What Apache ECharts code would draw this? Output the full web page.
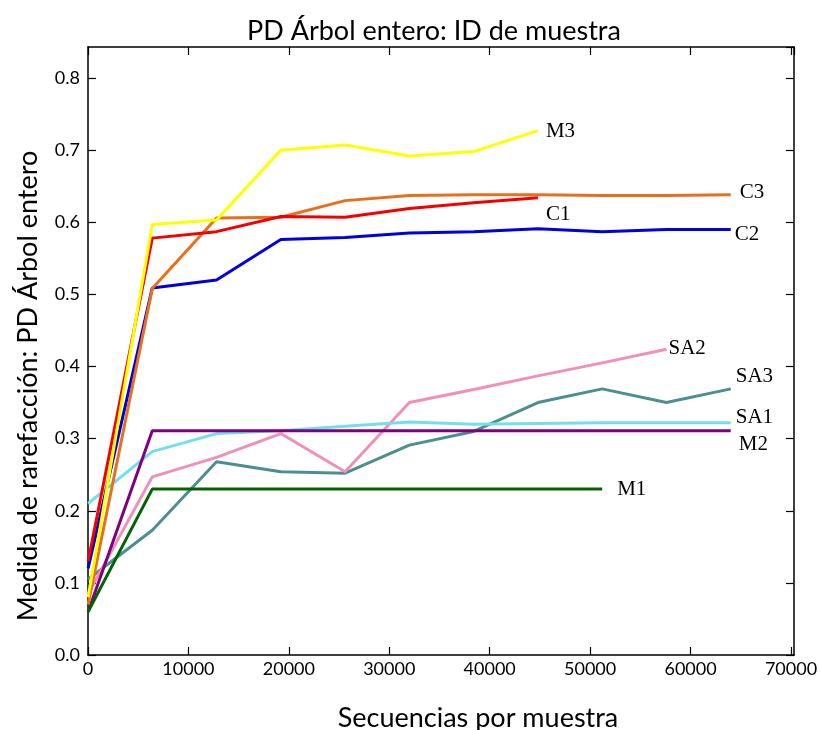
<!DOCTYPE html>
<html>
<head>
<meta charset="utf-8">
<script src="https://cdn.jsdelivr.net/npm/echarts@6/dist/echarts.min.js"></script>
<style>html,body{margin:0;padding:0;background:#fff}#c{width:820px;height:730px}</style>
</head>
<body>
<div id="c"></div>
<script>
var xs = [10, 6400, 12800, 19200, 25600, 32000, 38400, 44800, 51200, 57600, 64000];
var M3 = [0.080, 0.597, 0.603, 0.700, 0.707, 0.692, 0.698, 0.727];
var C3 = [0.070, 0.508, 0.606, 0.607, 0.630, 0.637, 0.638, 0.638, 0.637, 0.637, 0.638];
var C1 = [0.130, 0.578, 0.587, 0.608, 0.607, 0.619, 0.627, 0.634];
var C2 = [0.120, 0.509, 0.520, 0.576, 0.579, 0.585, 0.587, 0.591, 0.587, 0.590, 0.590];
var SA2 = [0.085, 0.247, 0.274, 0.307, 0.254, 0.350, 0.368, 0.387, 0.405, 0.424];
var SA3 = [0.105, 0.173, 0.268, 0.254, 0.252, 0.291, 0.310, 0.350, 0.369, 0.350, 0.369];
var SA1 = [0.210, 0.282, 0.307, 0.311, 0.317, 0.323, 0.320, 0.321, 0.322, 0.322, 0.322];
var M2 = [0.060, 0.311, 0.311, 0.311, 0.311, 0.311, 0.311, 0.311, 0.311, 0.311, 0.311];
var M1 = [0.060, 0.230, 0.230, 0.230, 0.230, 0.230, 0.230, 0.230, 0.230];
var xTicks = [0, 10000, 20000, 30000, 40000, 50000, 60000, 70000];
var yTicks = [0.0, 0.1, 0.2, 0.3, 0.4, 0.5, 0.6, 0.7, 0.8];

function pairs(vals) { return vals.map(function (v, i) { return [xs[i], v]; }); }

var defs = [
  { name: 'SA3', data: SA3, color: '#4b8f8f', offset: [-3, -12] },
  { name: 'SA2', data: SA2, color: '#f090b8', offset: [-6, -1] },
  { name: 'SA1', data: SA1, color: '#70e0f0', offset: [-3, -5] },
  { name: 'M2', data: M2, color: '#800080', offset: [0, 14] },
  { name: 'M1', data: M1, color: '#006400', offset: [7, 0] },
  { name: 'C2', data: C2, color: '#0000e0', offset: [-4, 5] },
  { name: 'C3', data: C3, color: '#e8701c', offset: [1, -2] },
  { name: 'C1', data: C1, color: '#f50000', offset: [0, 17] },
  { name: 'M3', data: M3, color: '#ffff00', offset: [0, 1] }
];

var series = defs.map(function (d) {
  return {
    name: d.name, type: 'line', data: pairs(d.data), symbol: 'none',
    lineStyle: { color: d.color, width: 3 }, itemStyle: { color: d.color },
    xAxisIndex: 0, yAxisIndex: 0,
    endLabel: { show: true, formatter: '{a}', color: '#000', fontFamily: 'Liberation Serif',
      fontSize: 21, distance: 8, offset: d.offset }
  };
});

function axisCommon() {
  return {
    axisLine: { show: true, onZero: false, lineStyle: { color: '#000', width: 1.5 } },
    axisTick: { show: true, inside: true, length: 8, lineStyle: { color: '#000', width: 1.2 } },
    splitLine: { show: false }
  };
}

var chart = echarts.init(document.getElementById('c'));
chart.setOption({
  animation: false,
  backgroundColor: '#fff',
  title: { text: 'PD Árbol entero: ID de muestra', left: 242, top: 13,
    textStyle: { fontFamily: 'Lato', fontWeight: 'normal', fontSize: 27, color: '#000' } },
  grid: { left: 88, right: 26, top: 47, bottom: 75, containLabel: false, outerBoundsMode: 'none' },
  xAxis: [
    Object.assign({ type: 'value', position: 'bottom', min: 0, max: 70300, interval: 10000,
      name: 'Secuencias por muestra', nameLocation: 'middle', nameGap: 50,
      nameTextStyle: { fontFamily: 'Lato', fontSize: 27, color: '#000', padding: [0, 0, 0, 74] },
      axisLabel: { color: '#000', fontFamily: 'Lato', fontSize: 18, margin: 5, showMaxLabel: false,
        formatter: function (v) { return xTicks.indexOf(v) >= 0 ? String(v) : ''; } } }, axisCommon()),
    Object.assign({ type: 'value', position: 'top', min: 0, max: 70300, interval: 10000,
      axisLabel: { show: false } }, axisCommon())
  ],
  yAxis: [
    Object.assign({ type: 'value', position: 'left', min: 0, max: 0.843, interval: 0.1,
      name: 'Medida de rarefacción: PD Árbol entero', nameLocation: 'middle', nameGap: 46,
      nameTextStyle: { fontFamily: 'Lato', fontSize: 27, color: '#000', padding: [0, 70, 0, 0] },
      axisLabel: { color: '#000', fontFamily: 'Lato', fontSize: 18, margin: 8, showMaxLabel: false,
        formatter: function (v) {
          var r = Math.round(v * 10) / 10;
          return yTicks.indexOf(r) >= 0 && Math.abs(v - r) < 1e-6 ? r.toFixed(1) : '';
        } } }, axisCommon()),
    Object.assign({ type: 'value', position: 'right', min: 0, max: 0.843, interval: 0.1,
      axisLabel: { show: false } }, axisCommon())
  ],
  series: series
});
</script>
</body>
</html>
